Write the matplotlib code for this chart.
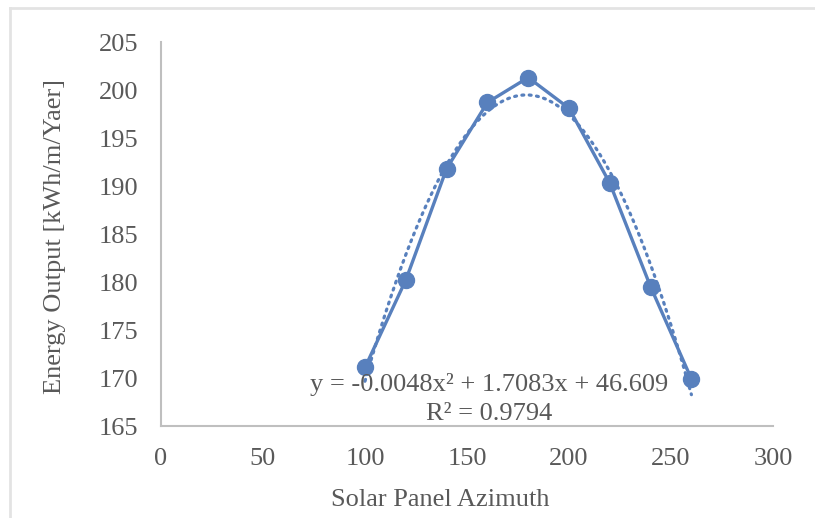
import numpy as np
import matplotlib
matplotlib.use("Agg")
import matplotlib.pyplot as plt
from matplotlib.lines import Line2D

# Energy output versus panel azimuth
azimuth = [100, 120, 140, 160, 180, 200, 220, 240, 260]
energy = [171.1, 180.2, 191.8, 198.7, 201.3, 198.1, 190.3, 179.5, 169.9]

x_ticks = [0, 50, 100, 150, 200, 250, 300]
y_ticks = [165, 170, 175, 180, 185, 190, 195, 200, 205]

equation_text = "y = -0.0048x² + 1.7083x + 46.609"
r2_text = "R² = 0.9794"

blue = "#5880BD"
grey_text = "#595959"
axis_grey = "#BFBFBF"

plt.rcParams["font.family"] = ["Liberation Serif", "DejaVu Serif"]

fig = plt.figure(figsize=(8.15, 5.18), dpi=100)
ax = fig.add_axes([0.1975, 0.1776, 0.7510, 0.7413])

# polynomial (order 2) trendline
coef = np.polyfit(azimuth, energy, 2)
xs = np.linspace(min(azimuth), max(azimuth), 200)
ax.plot(xs, np.polyval(coef, xs), color=blue, lw=2.3,
        linestyle=(0, (0.6, 1.7)), dash_capstyle="round", zorder=2)

ax.plot(azimuth, energy, color=blue, lw=2.4, marker="o", markersize=11.5,
        zorder=3)

ax.set_xlim(0, 300)
ax.set_ylim(165, 205)
ax.set_xticks(x_ticks)
ax.set_yticks(y_ticks)
ax.tick_params(axis="both", length=0, labelsize=19, colors=grey_text)
ax.tick_params(axis="y", pad=16.5)
ax.tick_params(axis="x", pad=15.5)

for side in ("top", "right"):
    ax.spines[side].set_visible(False)
for side in ("left", "bottom"):
    ax.spines[side].set_color(axis_grey)
    ax.spines[side].set_linewidth(1.5)

ax.text(160.8, 169.3, equation_text, ha="center", va="center", fontsize=19,
        color=grey_text, zorder=4)
ax.text(160.8, 166.2, r2_text, ha="center", va="center", fontsize=19,
        color=grey_text, zorder=4)

fig.text(440 / 815, 1 - 500 / 518, "Solar Panel Azimuth", ha="center",
         va="center", fontsize=19, color=grey_text)
fig.text(55 / 815, 1 - 237 / 518, "Energy Output [kWh/m/Yaer]", ha="center",
         va="center", rotation=90, fontsize=19, color=grey_text)

# chart-area frame (top and left edges)
frame = "#E3E3E3"
fig.add_artist(Line2D([10 / 815, 1], [1 - 7.5 / 518, 1 - 7.5 / 518],
                      transform=fig.transFigure, color=frame, lw=2))
fig.add_artist(Line2D([10 / 815, 10 / 815], [0, 1 - 7.5 / 518],
                      transform=fig.transFigure, color=frame, lw=2))

fig.savefig("out.png", dpi=100)
